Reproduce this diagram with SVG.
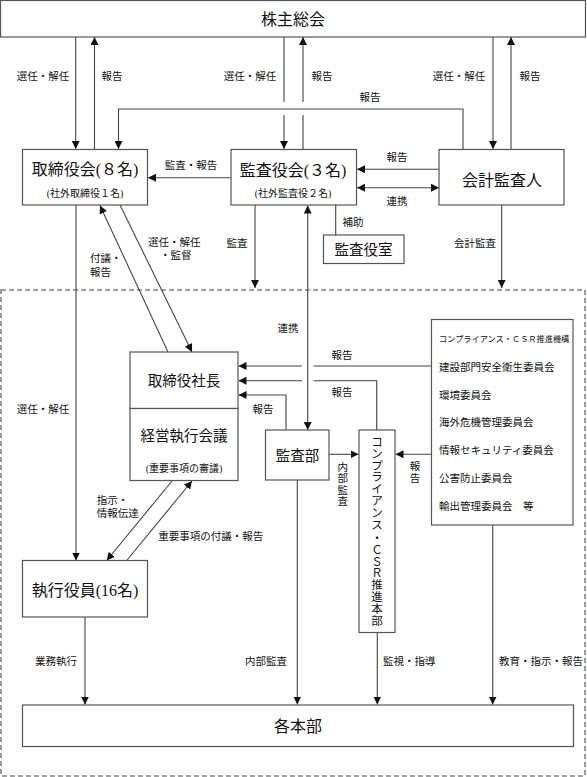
<svg xmlns="http://www.w3.org/2000/svg" width="587" height="777" viewBox="0 0 587 777">
<style>
.box{fill:#fff;stroke:#555;stroke-width:1.2}
.ln{fill:none;stroke:#444;stroke-width:1.1}
.arr{marker-end:url(#ah)}
.bi{marker-start:url(#ah);marker-end:url(#ah)}
.dash{fill:none;stroke:#444;stroke-width:1.1;stroke-dasharray:5,3}
text{font-family:"Liberation Serif","Noto Sans CJK JP",serif;fill:#111;text-anchor:middle;dominant-baseline:central}
.big{font-size:16px}
.mid{font-size:14.5px}
.sub{font-size:10px}
.lb{font-size:10.5px}
.sm{font-size:8.2px}
.l{text-anchor:start}
</style>
<defs>
<marker id="ah" viewBox="0 0 8 8" refX="8" refY="4" markerWidth="8" markerHeight="8" markerUnits="userSpaceOnUse" orient="auto-start-reverse">
<path d="M0,0 L8,4 L0,8 z" fill="#111"/>
</marker>
</defs>
<rect width="587" height="777" fill="#fff"/>
<rect class="dash" x="1" y="290" width="584" height="486"/>

<g id="connectors">
<path class="ln arr" d="M75.7,37 V149"/>
<path class="ln arr" d="M94.5,149 V37"/>
<path class="ln arr" d="M284,37 V102 M284,115 V149"/>
<path class="ln arr" d="M303,149 V115 M303,102 V37"/>
<path class="ln arr" d="M493,37 V149"/>
<path class="ln arr" d="M511,149 V37"/>
<path class="ln arr" d="M463,149 V109 H118.5 V149"/>
<path class="ln arr" d="M231,177.7 H148"/>
<path class="ln arr" d="M439,169.3 H357"/>
<path class="ln bi" d="M439,187.7 H357"/>
<path class="ln" d="M335.7,205 V235"/>
<path class="ln arr" d="M501.7,205 V288"/>
<path class="ln arr" d="M255,205 V288"/>
<path class="ln bi" d="M307.7,430 V205.5"/>
<path class="ln arr" d="M76,205 V560.5"/>
<path class="ln arr" d="M168,352 L100,205.5"/>
<path class="ln arr" d="M120,205 L192,352"/>
<path class="ln arr" d="M172,481 L106.7,560.5"/>
<path class="ln arr" d="M126.7,560.5 L192,481"/>
<path class="ln arr" d="M431.5,366 H313.5 M302,366 H238.5"/>
<path class="ln arr" d="M376.7,430 V380.7 H313.5 M302,380.7 H238.5"/>
<path class="ln arr" d="M286,430 V395 H238.5"/>
<path class="ln arr" d="M329,454.3 H358.5"/>
<path class="ln arr" d="M431.5,454.3 H395.5"/>
<path class="ln arr" d="M85,617 V704.5"/>
<path class="ln arr" d="M297.3,480 V704.5"/>
<path class="ln arr" d="M377.3,632.5 V704.5"/>
<path class="ln arr" d="M492.7,525 V704.5"/>
</g>

<g id="labels">
<text class="lb" x="43" y="76">選任・解任</text>
<text class="lb" x="112" y="76">報告</text>
<text class="lb" x="250" y="76">選任・解任</text>
<text class="lb" x="322" y="76">報告</text>
<text class="lb" x="459" y="76">選任・解任</text>
<text class="lb" x="530" y="76">報告</text>
<text class="lb" x="370" y="97">報告</text>
<text class="lb" x="191" y="165">監査・報告</text>
<text class="lb" x="397" y="157">報告</text>
<text class="lb" x="397" y="201">連携</text>
<text class="lb" x="353" y="222">補助</text>
<text class="lb" x="475" y="243">会計監査</text>
<text class="lb" x="237" y="243">監査</text>
<text class="lb l" x="148" y="242">選任・解任</text>
<text class="lb l" x="160" y="255">・監督</text>
<text class="lb l" x="90" y="258">付議・</text>
<text class="lb l" x="90" y="272">報告</text>
<text class="lb" x="288" y="328">連携</text>
<text class="lb" x="43" y="409">選任・解任</text>
<text class="lb" x="342" y="355">報告</text>
<text class="lb" x="342" y="392">報告</text>
<text class="lb" x="263" y="409">報告</text>
<text class="lb"><tspan x="342.7" y="466.7">内</tspan><tspan x="342.7" y="478">部</tspan><tspan x="342.7" y="489.5">監</tspan><tspan x="342.7" y="501">査</tspan></text>
<text class="lb"><tspan x="415" y="466">報</tspan><tspan x="415" y="478">告</tspan></text>
<text class="lb l" x="96.7" y="500.7">指示・</text>
<text class="lb l" x="96.7" y="513.3">情報伝達</text>
<text class="lb l" x="158.3" y="536">重要事項の付議・報告</text>
<text class="lb" x="56" y="661.7">業務執行</text>
<text class="lb" x="266" y="661.7">内部監査</text>
<text class="lb l" x="383" y="661.7">監視・指導</text>
<text class="lb l" x="499" y="661.7">教育・指示・報告</text>
</g>

<g id="shareholders">
<rect class="box" x="0.5" y="0.5" width="585" height="36.5"/>
<text class="big" x="293" y="19">株主総会</text>
</g>
<g id="board">
<rect class="box" x="22.5" y="149.5" width="125" height="55.5"/>
<text class="big" x="85" y="169">取締役会(８名)</text>
<text class="sub" x="85" y="193">(社外取締役１名)</text>
</g>
<g id="auditors">
<rect class="box" x="231" y="149.5" width="125.5" height="55.5"/>
<text class="big" x="293" y="170">監査役会(３名)</text>
<text class="sub" x="293" y="193">(社外監査役２名)</text>
</g>
<g id="accounting-auditor">
<rect class="box" x="439" y="149.5" width="125" height="55.5"/>
<text class="big" x="502" y="180">会計監査人</text>
</g>
<g id="audit-office">
<rect class="box" x="323.5" y="235" width="80.5" height="28.5"/>
<text class="mid" x="363.5" y="249.5">監査役室</text>
</g>
<g id="president">
<rect class="box" x="130" y="352" width="108" height="56.5"/>
<text class="mid" x="184" y="380.5">取締役社長</text>
</g>
<g id="exec-meeting">
<rect class="box" x="130" y="408.5" width="108" height="72"/>
<text class="mid" x="184" y="436">経営執行会議</text>
<text class="sub" x="184" y="468">(重要事項の審議)</text>
</g>
<g id="audit-dept">
<rect class="box" x="265.5" y="430" width="63.5" height="50"/>
<text class="mid" x="297.5" y="456">監査部</text>
</g>
<g id="csr-hq">
<rect class="box" x="359" y="430" width="36" height="202.5"/>
<text style="font-size:11.5px"><tspan x="377" y="441.7">コ</tspan><tspan x="377" y="453.6">ン</tspan><tspan x="377" y="465.5">プ</tspan><tspan x="377" y="477.4">ラ</tspan><tspan x="377" y="489.3">イ</tspan><tspan x="377" y="501.2">ア</tspan><tspan x="377" y="513.1">ン</tspan><tspan x="377" y="525">ス</tspan><tspan x="377" y="537.5">・</tspan><tspan x="377" y="550">Ｃ</tspan><tspan x="377" y="561.5">Ｓ</tspan><tspan x="377" y="573">Ｒ</tspan><tspan x="377" y="585">推</tspan><tspan x="377" y="597">進</tspan><tspan x="377" y="608.8">本</tspan><tspan x="377" y="620.5">部</tspan></text>
</g>
<g id="committees">
<rect class="box" x="431.5" y="319.5" width="141.5" height="205.5"/>
<text class="sm l" x="439" y="339.3">コンプライアンス・ＣＳＲ推進機構</text>
<text class="lb l" x="439" y="367.7">建設部門安全衛生委員会</text>
<text class="lb l" x="439" y="395">環境委員会</text>
<text class="lb l" x="439" y="422.7">海外危機管理委員会</text>
<text class="lb l" x="439" y="450.7">情報セキュリティ委員会</text>
<text class="lb l" x="439" y="478.3">公害防止委員会</text>
<text class="lb l" x="439" y="506">輸出管理委員会　等</text>
</g>
<g id="officers">
<rect class="box" x="22.5" y="560.5" width="125" height="56.5"/>
<text class="big" x="85" y="590">執行役員(16名)</text>
</g>
<g id="divisions">
<rect class="box" x="22.5" y="705" width="551" height="41.5"/>
<text class="big" x="298" y="726">各本部</text>
</g>
</svg>
